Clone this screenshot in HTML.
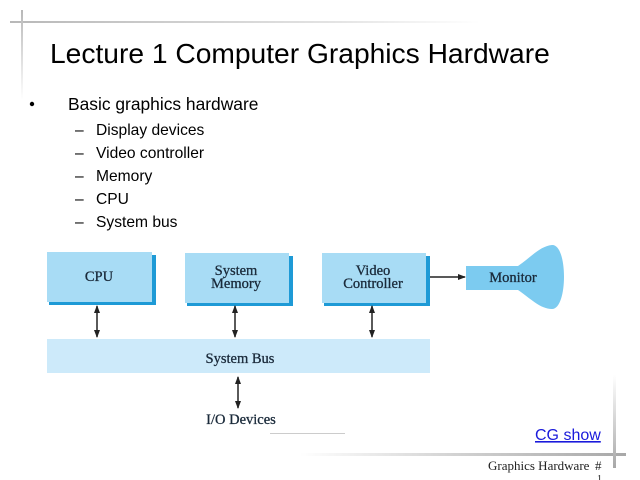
<!DOCTYPE html>
<html><head><meta charset="utf-8"><style>
html,body{margin:0;padding:0;background:#fff;}
svg{display:block;}
</style></head><body>
<svg width="640" height="480" viewBox="0 0 640 480" xmlns="http://www.w3.org/2000/svg">
<defs>
<linearGradient id="tl" x1="0" x2="1" y1="0" y2="0"><stop offset="0" stop-color="#b8b8b8"/><stop offset="0.7" stop-color="#e4e4e4"/><stop offset="1" stop-color="#fff"/></linearGradient>
<linearGradient id="tv" x1="0" x2="0" y1="0" y2="1"><stop offset="0" stop-color="#b8b8b8"/><stop offset="1" stop-color="#fff"/></linearGradient>
<linearGradient id="bl" x1="0" x2="1" y1="0" y2="0"><stop offset="0" stop-color="#fff"/><stop offset="0.5" stop-color="#d0d0d0"/><stop offset="1" stop-color="#a8a8a8"/></linearGradient>
<linearGradient id="bv" x1="0" x2="0" y1="0" y2="1"><stop offset="0" stop-color="#fff"/><stop offset="1" stop-color="#a8a8a8"/></linearGradient>
<marker id="a" markerWidth="8" markerHeight="8" refX="7" refY="4" orient="auto" markerUnits="userSpaceOnUse"><path d="M0,1 L8,4 L0,7 Z" fill="#222"/></marker>
</defs>
<rect x="10" y="21" width="470" height="2" fill="url(#tl)"/>
<rect x="21" y="10" width="2" height="90" fill="url(#tv)"/>
<rect x="300" y="453" width="326" height="3" fill="url(#bl)"/>
<rect x="613" y="375" width="3" height="93" fill="url(#bv)"/>

<g font-family="Liberation Sans, Arial, sans-serif" fill="#000">
<text x="50" y="63" font-size="28.2">Lecture 1 Computer Graphics Hardware</text>
<circle cx="32" cy="104" r="2.2" fill="#000"/>
<text x="68" y="110" font-size="17.4">Basic graphics hardware</text>
<g font-size="15.6">
<text x="75" y="135">–</text><text x="96" y="135">Display devices</text>
<text x="75" y="158">–</text><text x="96" y="158">Video controller</text>
<text x="75" y="181">–</text><text x="96" y="181">Memory</text>
<text x="75" y="204">–</text><text x="96" y="204">CPU</text>
<text x="75" y="227">–</text><text x="96" y="227">System bus</text>
</g>
<text x="535" y="440" font-size="16" fill="#1a1adb" text-decoration="underline">CG show</text>
</g>

<g>
<rect x="49" y="255" width="107" height="50" fill="#1e9ad6"/>
<rect x="47" y="252" width="105" height="50" fill="#a8dcf5"/>
<rect x="187" y="256" width="106" height="50" fill="#1e9ad6"/>
<rect x="185" y="253" width="104" height="50" fill="#a8dcf5"/>
<rect x="324" y="256" width="106" height="50" fill="#1e9ad6"/>
<rect x="322" y="253" width="104" height="50" fill="#a8dcf5"/>
<rect x="47" y="339" width="383" height="34" fill="#cdeafa"/>
<path d="M466,266 L518,266 C530,258 540,246 552,245 C568,244 568,309 552,309 C540,309 530,298 518,290 L466,290 Z" fill="#7ccbf0"/>
</g>
<g stroke="#222" stroke-width="1.5">
<line x1="97" y1="314" x2="97" y2="306" marker-end="url(#a)"/><line x1="97" y1="314" x2="97" y2="337" marker-end="url(#a)"/>
<line x1="235" y1="314" x2="235" y2="306" marker-end="url(#a)"/><line x1="235" y1="314" x2="235" y2="337" marker-end="url(#a)"/>
<line x1="372" y1="314" x2="372" y2="306" marker-end="url(#a)"/><line x1="372" y1="314" x2="372" y2="337" marker-end="url(#a)"/>
<line x1="238" y1="390" x2="238" y2="377" marker-end="url(#a)"/><line x1="238" y1="390" x2="238" y2="408" marker-end="url(#a)"/>
<line x1="430" y1="277" x2="465" y2="277" marker-end="url(#a)"/>
</g>
<g font-family="Liberation Serif, Times New Roman, serif" fill="#1a2a3a" font-size="14.5" text-anchor="middle" stroke="#1a2a3a" stroke-width="0.3">
<text x="99" y="281">CPU</text>
<text x="236" y="275">System</text><text x="236" y="288">Memory</text>
<text x="373" y="275">Video</text><text x="373" y="288">Controller</text>
<text x="513" y="282">Monitor</text>
<text x="240" y="363">System Bus</text>
<text x="241" y="424">I/O Devices</text>
</g>
<rect x="270" y="433" width="75" height="1" fill="#ccc"/>
<g font-family="Liberation Serif, Times New Roman, serif" font-size="13" fill="#222">
<text x="488" y="470">Graphics Hardware</text>
<text x="595" y="470">#</text>
<text x="597" y="482" font-size="10">1</text>
</g>
</svg>
</body></html>
